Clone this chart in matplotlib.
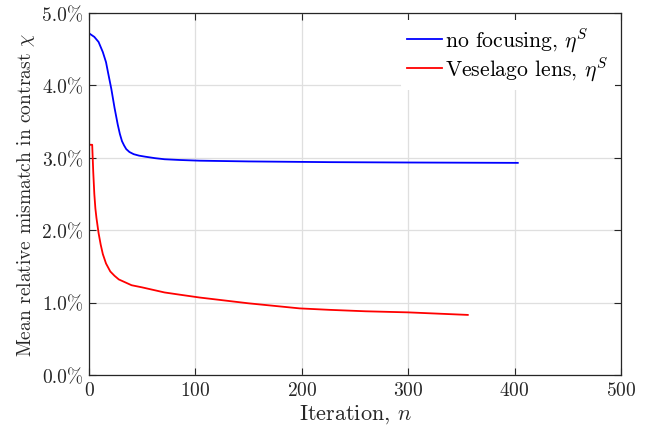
import matplotlib
matplotlib.use('Agg')
from matplotlib import pyplot as plt, rcParams
from matplotlib.ticker import FuncFormatter

rcParams['font.family'] = 'cmr10'
rcParams['mathtext.fontset'] = 'cm'
rcParams['axes.formatter.use_mathtext'] = True

# no focusing (blue)
n_blue = [1, 5, 9, 13, 16, 18, 21, 24, 27, 29, 31, 33, 35, 38, 42, 47, 53, 62, 71, 85, 104, 150, 226, 300, 403]
chi_blue = [4.71, 4.67, 4.60, 4.46, 4.32, 4.17, 3.95, 3.69, 3.46, 3.33, 3.23, 3.17, 3.12, 3.08, 3.05, 3.03, 3.015, 2.995, 2.98, 2.97, 2.96, 2.95, 2.94, 2.935, 2.93]

# Veselago lens (red)
n_red = [1, 3, 4, 5, 6, 7, 9, 11, 13, 16, 20, 24, 28, 34, 40, 50, 59, 71, 85, 104, 150, 198, 226, 260, 300, 356]
chi_red = [3.18, 3.18, 2.80, 2.50, 2.30, 2.17, 1.96, 1.80, 1.67, 1.54, 1.43, 1.37, 1.32, 1.28, 1.24, 1.21, 1.18, 1.14, 1.11, 1.07, 0.99, 0.92, 0.90, 0.88, 0.865, 0.83]

fig = plt.figure(figsize=(6.52, 4.39), dpi=100)
ax = fig.add_axes([89/652, 1 - 376/439, 532/652, 362/439])

ax.plot(n_blue, chi_blue, color='#0000ff', lw=1.3, label=r'no focusing, $\eta^S$')
ax.plot(n_red, chi_red, color='#ff0000', lw=1.3, label=r'Veselago lens, $\eta^S$')

ax.set_xlim(0, 500)
ax.set_ylim(0, 5)
ax.set_xticks(range(0, 501, 100))
ax.set_yticks([0, 1, 2, 3, 4, 5])
ax.yaxis.set_major_formatter(FuncFormatter(lambda v, p: '%.1f%%' % v))

ax.grid(True, color='#dfdfdf', lw=0.9)
ax.set_axisbelow(True)
for s in ax.spines.values():
    s.set_color('#262626')
    s.set_linewidth(0.9)
ax.tick_params(direction='in', top=True, right=True, length=5, width=0.8,
               color='#262626', labelsize=14, labelcolor='#262626', pad=4)

ax.set_xlabel(r'Iteration, $n$', fontsize=16, color='#262626', labelpad=3)
ax.set_ylabel(r'Mean relative mismatch in contrast $\chi$', fontsize=14, color='#262626', labelpad=4)

leg = ax.legend(loc='upper right', fontsize=15.6, frameon=True, handlelength=1.6,
                handletextpad=0.15, borderaxespad=0.3, labelspacing=0.05, borderpad=0.3)
leg.get_frame().set_edgecolor('none')
leg.get_frame().set_facecolor('white')
leg.get_frame().set_alpha(1)

fig.savefig('out.png', dpi=100)
